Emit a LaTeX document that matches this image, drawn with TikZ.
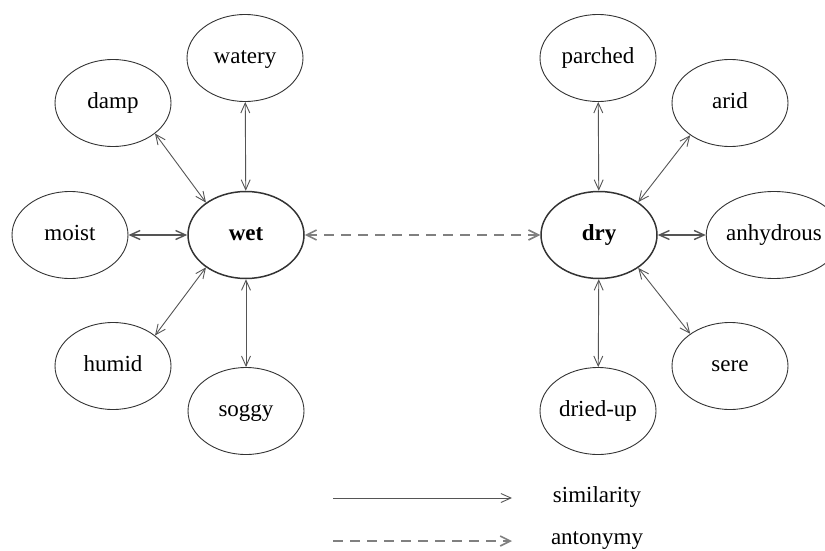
\documentclass[tikz,border=0pt]{standalone}
\usepackage{fontspec}
\setmainfont{Liberation Serif}
\usetikzlibrary{shapes.geometric,arrows.meta}

\definecolor{edgegray}{HTML}{555555}
\definecolor{dashgray}{HTML}{808080}

\tikzset{
  barb/.tip={Straight Barb[length=10pt,width=9pt]},
  widebarb/.tip={Straight Barb[length=10pt,width=10pt]},
  word/.style={ellipse, draw=black!80, line width=0.9pt, minimum width=116pt,
               minimum height=87pt, inner sep=0pt, text height=11pt, text depth=0pt,
               font=\fontsize{23}{27}\selectfont},
  headword/.style={word, line width=1.5pt, font=\fontsize{23}{27}\selectfont\bfseries},
  simedge/.style={draw=edgegray, line width=0.9pt, barb-barb},
  antedge/.style={draw=dashgray, line width=1.6pt, dash pattern=on 10pt off 7pt,
                  widebarb-widebarb},
  legendtext/.style={font=\fontsize{23}{27}\selectfont, inner sep=0pt,
                     text height=11pt, text depth=0pt},
}

\begin{document}
\begin{tikzpicture}[x=1pt,y=-1pt]
  \useasboundingbox (0,0) rectangle (825,551);

  % wet cluster
  \node[headword] (wet)    at (246,235) {wet};
  \node[word]     (watery) at (245,58)  {watery};
  \node[word]     (damp)   at (113,103) {damp};
  \node[word]     (moist)  at (70,235)  {moist};
  \node[word]     (humid)  at (113,366) {humid};
  \node[word]     (soggy)  at (246,411) {soggy};

  % dry cluster
  \node[headword] (dry)       at (599,235) {dry};
  \node[word]     (parched)   at (598,58)  {parched};
  \node[word]     (arid)      at (730,103) {arid};
  \node[word]     (anhydrous) at (774,235) {anhydrous};
  \node[word]     (sere)      at (730,366) {sere};
  \node[word]     (driedup)   at (598,411) {dried-up};

  % similarity links
  \draw[simedge] (watery) -- (wet);
  \draw[simedge] (damp.-36) -- (wet.141);
  \draw[simedge, line width=1.4pt] (moist) -- (wet);
  \draw[simedge] (humid.36) -- (wet.-141);
  \draw[simedge] (soggy) -- (wet);

  \draw[simedge] (parched) -- (dry);
  \draw[simedge] (arid.-141) -- (dry.40);
  \draw[simedge, line width=1.4pt] (anhydrous) -- (dry);
  \draw[simedge] (sere.141) -- (dry.-40);
  \draw[simedge] (driedup) -- (dry);

  % antonymy link
  \draw[antedge] (wet) -- (dry);

  % legend
  \coordinate (simA) at (333,498);
  \coordinate (simB) at (512,498);
  \coordinate (antA) at (333,541);
  \coordinate (antB) at (512,541);
  \draw[draw=edgegray, line width=0.9pt, -barb] (simA) -- (simB);
  \draw[draw=dashgray, line width=1.6pt, dash pattern=on 10pt off 7pt, -widebarb]
    (antA) -- (antB);
  \node[legendtext] (simlabel) at (597,497) {similarity};
  \node[legendtext] (antlabel) at (597,539) {antonymy};
\end{tikzpicture}
\end{document}
